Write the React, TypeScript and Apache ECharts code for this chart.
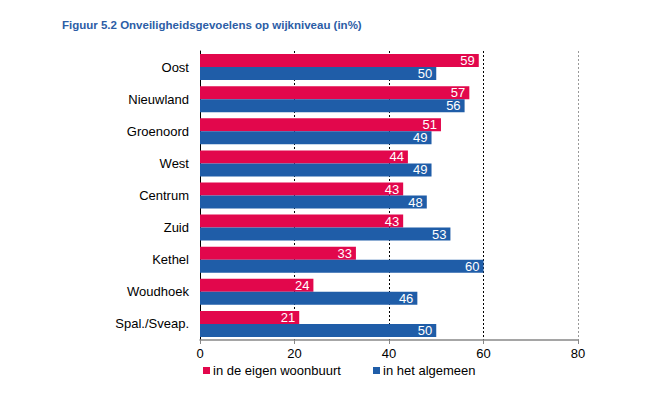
import React, { useEffect, useRef } from "react";
import * as echarts from "echarts";

const categories = ["Oost", "Nieuwland", "Groenoord", "West", "Centrum", "Zuid", "Kethel", "Woudhoek", "Spal./Sveap."];
const eigenWoonbuurt = [59, 57, 51, 44, 43, 43, 33, 24, 21];
const algemeen = [50, 56, 49, 49, 48, 53, 60, 46, 50];
const seriesNames = ["in de eigen woonbuurt", "in het algemeen"];
const xTicks = [0, 20, 40, 60, 80];

const RED = "#E2074C";
const BLUE = "#1F5DA8";
const FONT = "'Liberation Sans', Arial, sans-serif";

export default function App() {
  const ref = useRef<HTMLDivElement>(null);
  useEffect(() => {
    if (!ref.current) return;
    const chart = echarts.init(ref.current, undefined, { renderer: "svg" });
    const label = {
      show: true,
      position: "insideRight",
      distance: 4,
      color: "#fff",
      fontFamily: FONT,
      fontSize: 13,
    };
    const legendBase = {
      top: 359,
      icon: "rect",
      itemWidth: 7,
      itemHeight: 7,
      itemGap: 0,
      textStyle: { fontSize: 13, color: "#000", fontFamily: FONT, padding: [0, 0, 0, -2] },
    };
    chart.setOption({
      animation: false,
      backgroundColor: "#fff",
      textStyle: { fontFamily: FONT },
      title: {
        text: "Figuur 5.2 Onveiligheidsgevoelens op wijkniveau (in%)",
        left: 57,
        top: 14,
        textStyle: { color: "#2C5DA6", fontSize: 11.5, fontWeight: "bold", fontFamily: FONT },
      },
      legend: [
        { ...legendBase, data: [seriesNames[0]], left: 198 },
        { ...legendBase, data: [seriesNames[1]], left: 368 },
      ],
      grid: { left: 200, right: 90, top: 51, height: 289, containLabel: false },
      xAxis: {
        type: "value",
        min: 0,
        max: 80,
        interval: 20,
        axisLine: { show: true, lineStyle: { color: "#888", width: 1.5 } },
        axisTick: { show: true, length: 4, lineStyle: { color: "#888" } },
        axisLabel: {
          color: "#000",
          fontSize: 13,
          margin: 7,
          fontFamily: FONT,
          formatter: (v: number) => (xTicks.includes(v) ? String(v) : ""),
        },
        splitLine: {
          show: true,
          lineStyle: { color: ["#000", "#000", "#000", "#000", "#999"], type: [2, 2], width: 1 },
        },
      },
      yAxis: {
        type: "category",
        data: categories,
        inverse: true,
        axisLine: { show: true, lineStyle: { color: "#000", width: 1 } },
        axisTick: { show: false },
        axisLabel: { color: "#000", fontSize: 13, margin: 11, fontFamily: FONT },
      },
      series: [
        {
          name: seriesNames[0],
          type: "bar",
          data: eigenWoonbuurt,
          barWidth: 13,
          barGap: "0%",
          itemStyle: { color: RED },
          label,
        },
        {
          name: seriesNames[1],
          type: "bar",
          data: algemeen,
          barWidth: 13,
          barGap: "0%",
          itemStyle: { color: BLUE },
          label,
        },
      ],
    });
    return () => chart.dispose();
  }, []);
  return <div ref={ref} style={{ width: 668, height: 398, position: "absolute", left: 0, top: 0 }} />;
}
